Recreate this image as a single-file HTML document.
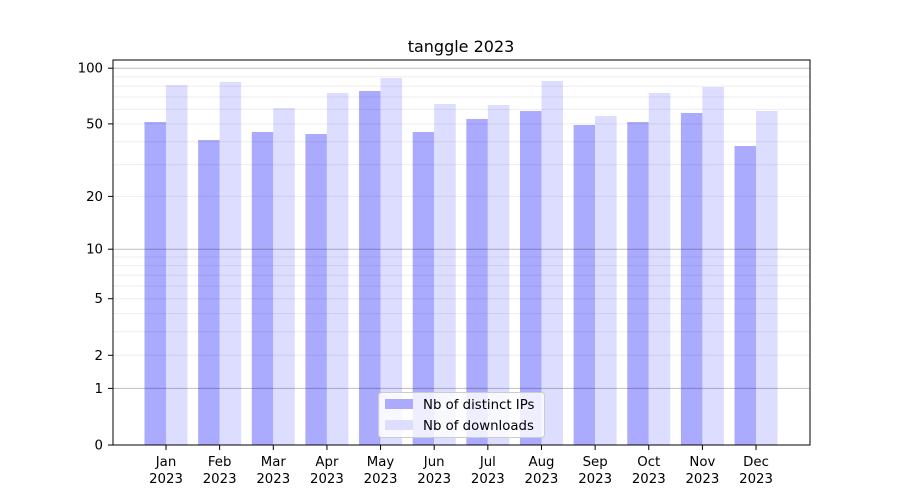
<!DOCTYPE html>
<html><head><meta charset="utf-8"><style>body{margin:0;background:#fff}svg{display:block}text{font-family:"DejaVu Sans","Liberation Sans",sans-serif;font-size:13.3px;fill:#000}</style></head>
<body>
<svg width="900" height="500" xmlns="http://www.w3.org/2000/svg">
<rect width="900" height="500" fill="#fff"/>
<g fill="#aaaaff">
<rect x="144.5" y="122" width="21.5" height="323"/>
<rect x="198.14" y="140" width="21.5" height="305"/>
<rect x="251.78" y="132" width="21.5" height="313"/>
<rect x="305.42" y="134" width="21.5" height="311"/>
<rect x="359.06" y="91" width="21.5" height="354"/>
<rect x="412.7" y="132" width="21.5" height="313"/>
<rect x="466.34" y="119" width="21.5" height="326"/>
<rect x="519.98" y="111" width="21.5" height="334"/>
<rect x="573.62" y="125" width="21.5" height="320"/>
<rect x="627.26" y="122" width="21.5" height="323"/>
<rect x="680.9" y="113" width="21.5" height="332"/>
<rect x="734.54" y="146" width="21.5" height="299"/>
</g>
<g fill="#ddddff">
<rect x="166" y="85" width="21.5" height="360"/>
<rect x="219.64" y="82" width="21.5" height="363"/>
<rect x="273.28" y="108" width="21.5" height="337"/>
<rect x="326.92" y="93" width="21.5" height="352"/>
<rect x="380.56" y="78" width="21.5" height="367"/>
<rect x="434.2" y="104" width="21.5" height="341"/>
<rect x="487.84" y="105" width="21.5" height="340"/>
<rect x="541.48" y="81" width="21.5" height="364"/>
<rect x="595.12" y="116" width="21.5" height="329"/>
<rect x="648.76" y="93" width="21.5" height="352"/>
<rect x="702.4" y="87" width="21.5" height="358"/>
<rect x="756.04" y="111" width="21.5" height="334"/>
</g>
<g stroke="#000" stroke-opacity="0.07" stroke-width="1">
<line x1="113" x2="810" y1="355.3" y2="355.3"/><line x1="113" x2="810" y1="331.8" y2="331.8"/><line x1="113" x2="810" y1="313.6" y2="313.6"/><line x1="113" x2="810" y1="298.7" y2="298.7"/><line x1="113" x2="810" y1="286.1" y2="286.1"/><line x1="113" x2="810" y1="275.2" y2="275.2"/><line x1="113" x2="810" y1="265.6" y2="265.6"/><line x1="113" x2="810" y1="257" y2="257"/>
<line x1="113" x2="810" y1="196.4" y2="196.4"/><line x1="113" x2="810" y1="164.6" y2="164.6"/><line x1="113" x2="810" y1="141.8" y2="141.8"/><line x1="113" x2="810" y1="123.9" y2="123.9"/><line x1="113" x2="810" y1="109.4" y2="109.4"/><line x1="113" x2="810" y1="97" y2="97"/><line x1="113" x2="810" y1="86.2" y2="86.2"/><line x1="113" x2="810" y1="76.7" y2="76.7"/>
</g>
<g stroke="#000" stroke-opacity="0.25" stroke-width="1">
<line x1="113" x2="810" y1="388.4" y2="388.4"/><line x1="113" x2="810" y1="249.2" y2="249.2"/><line x1="113" x2="810" y1="68.2" y2="68.2"/>
</g>
<rect x="113" y="60" width="697" height="385" fill="none" stroke="#000" stroke-width="1"/>
<text x="461" y="52" text-anchor="middle" style="font-size:16px">tanggle 2023</text>
<g text-anchor="end">
<text x="103" y="449.5">0</text><text x="103" y="392.9">1</text><text x="103" y="359.8">2</text><text x="103" y="303.2">5</text><text x="103" y="253.7">10</text><text x="103" y="200.9">20</text><text x="103" y="128.4">50</text><text x="103" y="72.7">100</text>
</g>
<g stroke="#000"><line x1="108" x2="113" y1="445" y2="445"/><line x1="108" x2="113" y1="388.4" y2="388.4"/><line x1="108" x2="113" y1="355.3" y2="355.3"/><line x1="108" x2="113" y1="298.7" y2="298.7"/><line x1="108" x2="113" y1="249.2" y2="249.2"/><line x1="108" x2="113" y1="196.4" y2="196.4"/><line x1="108" x2="113" y1="123.9" y2="123.9"/><line x1="108" x2="113" y1="68.2" y2="68.2"/></g>
<g stroke="#000">
<line x1="166" x2="166" y1="445" y2="450"/><line x1="219.64" x2="219.64" y1="445" y2="450"/><line x1="273.28" x2="273.28" y1="445" y2="450"/><line x1="326.92" x2="326.92" y1="445" y2="450"/><line x1="380.56" x2="380.56" y1="445" y2="450"/><line x1="434.2" x2="434.2" y1="445" y2="450"/><line x1="487.84" x2="487.84" y1="445" y2="450"/><line x1="541.48" x2="541.48" y1="445" y2="450"/><line x1="595.12" x2="595.12" y1="445" y2="450"/><line x1="648.76" x2="648.76" y1="445" y2="450"/><line x1="702.4" x2="702.4" y1="445" y2="450"/><line x1="756.04" x2="756.04" y1="445" y2="450"/>
</g>
<g text-anchor="middle">
<text x="166" y="466">Jan</text><text x="166" y="483">2023</text>
<text x="219.64" y="466">Feb</text><text x="219.64" y="483">2023</text>
<text x="273.28" y="466">Mar</text><text x="273.28" y="483">2023</text>
<text x="326.92" y="466">Apr</text><text x="326.92" y="483">2023</text>
<text x="380.56" y="466">May</text><text x="380.56" y="483">2023</text>
<text x="434.2" y="466">Jun</text><text x="434.2" y="483">2023</text>
<text x="487.84" y="466">Jul</text><text x="487.84" y="483">2023</text>
<text x="541.48" y="466">Aug</text><text x="541.48" y="483">2023</text>
<text x="595.12" y="466">Sep</text><text x="595.12" y="483">2023</text>
<text x="648.76" y="466">Oct</text><text x="648.76" y="483">2023</text>
<text x="702.4" y="466">Nov</text><text x="702.4" y="483">2023</text>
<text x="756.04" y="466">Dec</text><text x="756.04" y="483">2023</text>
</g>
<rect x="378.5" y="392.5" width="166" height="45" rx="3" fill="#fff" fill-opacity="0.8" stroke="#ccc"/>
<rect x="385" y="399" width="28" height="10" fill="#aaaaff"/>
<text x="423" y="409">Nb of distinct IPs</text>
<rect x="385" y="420" width="28" height="10" fill="#ddddff"/>
<text x="423" y="430">Nb of downloads</text>
</svg>
</body></html>
